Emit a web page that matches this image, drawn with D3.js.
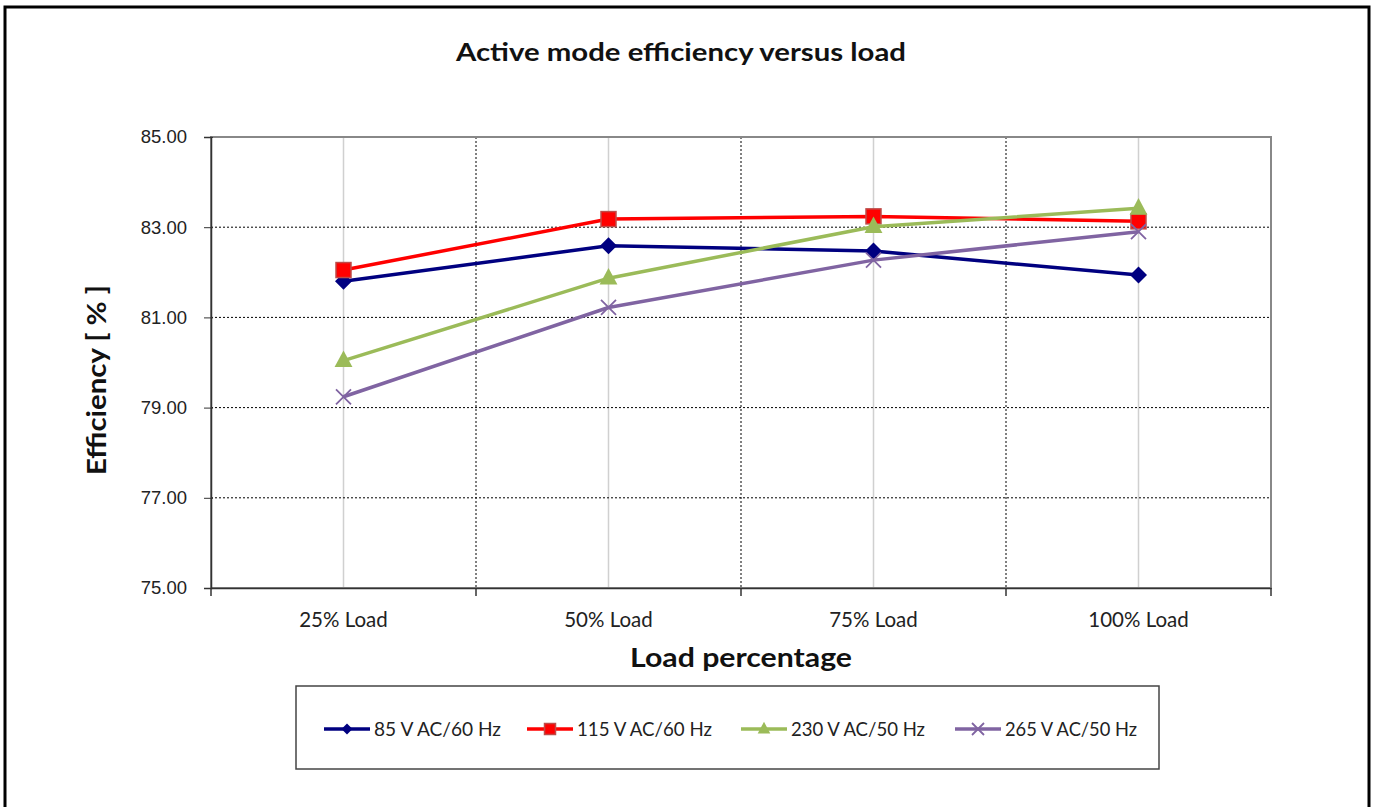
<!DOCTYPE html>
<html><head><meta charset="utf-8">
<script src="https://cdn.jsdelivr.net/npm/d3@7"></script>
<style>body{margin:0;background:#fff;} svg{display:block;}</style>
</head><body>
<svg id="c" width="1375" height="807"></svg>
<script>
const categories = ["25% Load","50% Load","75% Load","100% Load"];
const seriesNames = ["85 V AC/60 Hz","115 V AC/60 Hz","230 V AC/50 Hz","265 V AC/50 Hz"];
const v85  = [81.80, 82.59, 82.47, 81.94];
const v115 = [82.05, 83.18, 83.24, 83.13];
const v230 = [80.04, 81.87, 83.01, 83.42];
const v265 = [79.24, 81.22, 82.27, 82.90];
const yTicks = [75, 77, 79, 81, 83, 85];
const title = "Active mode efficiency versus load";
const xTitle = "Load percentage";
const yTitle = "Efficiency [ % ]";

const styles = [
  {color:"#000080", stroke:"#000080", marker:"diamond"},
  {color:"#FF0000", stroke:"#BE4B48", marker:"square"},
  {color:"#9BBB59", stroke:"#9BBB59", marker:"triangle"},
  {color:"#8064A2", stroke:"#8064A2", marker:"x"}
];
const data = [v85, v115, v230, v265];

const svg = d3.select("#c");
const L = 211, R = 1271, T = 137, B = 588;
const font = "Lato, 'Open Sans', sans-serif";

svg.append("rect").attr("x",5).attr("y",7).attr("width",1364).attr("height",830)
  .attr("fill","#fff").attr("stroke","#000").attr("stroke-width",3);

const x = d3.scaleBand().domain(categories).range([L,R]);
const y = d3.scaleLinear().domain([75,85]).range([B,T]);

// gridlines
const g = svg.append("g");
g.selectAll(".vc").data(categories).join("line")
  .attr("x1",d=>x(d)+x.bandwidth()/2).attr("x2",d=>x(d)+x.bandwidth()/2)
  .attr("y1",T).attr("y2",B).attr("stroke","#d0d0d0").attr("stroke-width",1.5);
g.selectAll(".vb").data(categories.slice(1)).join("line")
  .attr("x1",d=>x(d)).attr("x2",d=>x(d)).attr("y1",T).attr("y2",B)
  .attr("stroke","#000").attr("stroke-width",1).attr("stroke-dasharray","2,2");
g.selectAll(".h").data(yTicks.slice(1,-1)).join("line")
  .attr("x1",L).attr("x2",R).attr("y1",d=>y(d)).attr("y2",d=>y(d))
  .attr("stroke","#000").attr("stroke-width",1).attr("stroke-dasharray","2,2");

// plot border
svg.append("rect").attr("x",L).attr("y",T).attr("width",R-L).attr("height",B-T)
  .attr("fill","none").attr("stroke","#888").attr("stroke-width",2);

// y axis
const yAxis = d3.axisLeft(y).tickValues(yTicks).tickFormat(d3.format(".2f")).tickSize(7).tickPadding(17);
const ya = svg.append("g").attr("transform",`translate(${L},0)`).call(yAxis);
ya.select(".domain").attr("stroke","#333").attr("stroke-width",1.5);
ya.selectAll(".tick line").attr("stroke","#333").attr("x2",-7).attr("x1",2);
ya.selectAll("text").attr("font-family","'Liberation Sans', Arial, sans-serif").attr("font-size",18.5).attr("fill","#222");

// x axis
const xAxis = d3.axisBottom(x).tickSize(0).tickPadding(24);
const xa = svg.append("g").attr("transform",`translate(0,${B})`).call(xAxis);
xa.select(".domain").attr("stroke","#333").attr("stroke-width",1.5);
xa.selectAll("text").attr("font-family",font).attr("font-size",20.5).attr("fill","#222");
const bounds = categories.map(c=>x(c)).concat([R]);
svg.append("g").selectAll("line").data(bounds).join("line")
  .attr("x1",d=>d).attr("x2",d=>d).attr("y1",B).attr("y2",B+8).attr("stroke","#333").attr("stroke-width",1.5);

// markers
function drawMarker(sel, type, st, s){
  if(type==="diamond"){
    sel.append("path").attr("d",`M0,${-s}L${s},0L0,${s}L${-s},0Z`).attr("fill",st.color);
  } else if(type==="square"){
    sel.append("rect").attr("x",-s).attr("y",-s).attr("width",2*s).attr("height",2*s)
      .attr("fill",st.color).attr("stroke",st.stroke).attr("stroke-width",1.5);
  } else if(type==="triangle"){
    sel.append("path").attr("d",`M0,${-s*1.2}L${s*1.05},${s*0.75}L${-s*1.05},${s*0.75}Z`).attr("fill",st.color);
  } else {
    sel.append("path").attr("d",`M${-s},${-s}L${s},${s}M${-s},${s}L${s},${-s}`)
      .attr("stroke",st.color).attr("stroke-width",1.8).attr("fill","none");
  }
}

const line = d3.line().x((d,i)=>x(categories[i])+x.bandwidth()/2).y(d=>y(d));
data.forEach((vals,k)=>{
  const st = styles[k];
  svg.append("path").datum(vals).attr("d",line).attr("fill","none")
    .attr("stroke",st.color).attr("stroke-width",3.5).attr("stroke-linejoin","round");
  vals.forEach((v,i)=>{
    const m = svg.append("g").attr("transform",`translate(${x(categories[i])+x.bandwidth()/2},${y(v)})`);
    drawMarker(m, st.marker, st, st.marker==="square"?7.5:(st.marker==="x"?7.5:8.5));
  });
});

// titles
svg.append("text").attr("x",681).attr("y",61).attr("text-anchor","middle")
  .attr("font-family",font).attr("font-weight","bold").attr("font-size",24)
  .attr("textLength",450).attr("lengthAdjust","spacingAndGlyphs").attr("fill","#111").text(title);
svg.append("text").attr("x",741).attr("y",667).attr("text-anchor","middle")
  .attr("font-family",font).attr("font-weight","bold").attr("font-size",26)
  .attr("textLength",222).attr("lengthAdjust","spacingAndGlyphs").attr("fill","#111").text(xTitle);
svg.append("text").attr("transform","translate(106,380) rotate(-90)").attr("text-anchor","middle")
  .attr("font-family",font).attr("font-weight","bold").attr("font-size",26)
  .attr("textLength",190).attr("lengthAdjust","spacingAndGlyphs").attr("fill","#111").text(yTitle);

// legend
svg.append("rect").attr("x",296).attr("y",686).attr("width",863).attr("height",83)
  .attr("fill","#fff").attr("stroke","#444").attr("stroke-width",1.5);
const legX = [324, 527, 741, 955];
const legTL = [127, 135, 134, 132];
seriesNames.forEach((n,k)=>{
  const st = styles[k];
  const lg = svg.append("g").attr("transform",`translate(${legX[k]},729)`);
  lg.append("line").attr("x1",0).attr("x2",46).attr("stroke",st.color).attr("stroke-width",3.5);
  const m = lg.append("g").attr("transform","translate(23,0)");
  drawMarker(m, st.marker, st, st.marker==="triangle"?6:(st.marker==="x"?6:5.5));
  lg.append("text").attr("x",50).attr("y",7).attr("font-family",font).attr("font-size",19)
    .attr("textLength",legTL[k]).attr("lengthAdjust","spacingAndGlyphs").attr("fill","#222").text(n);
});
</script>
</body></html>
